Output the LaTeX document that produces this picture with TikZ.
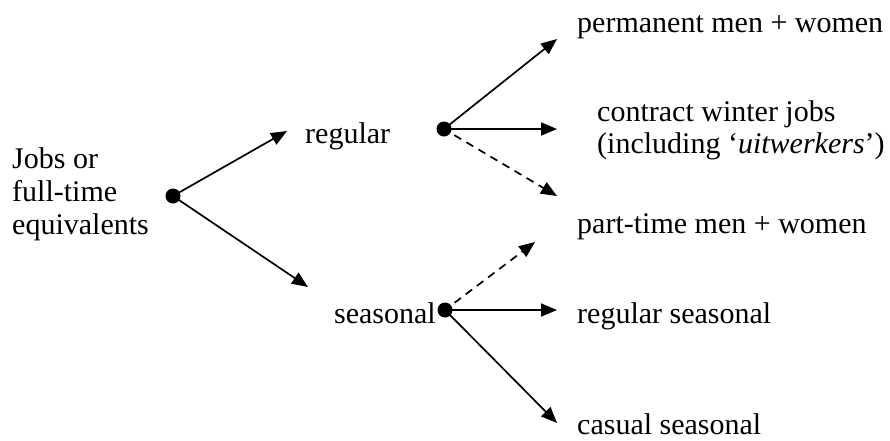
\documentclass[tikz,border=0pt]{standalone}
\usepackage{fontspec}
\setmainfont{Liberation Serif}
\usetikzlibrary{arrows.meta}
\begin{document}
\begin{tikzpicture}[x=1pt,y=-1pt,
  lbl/.style={inner sep=0pt,anchor=base west,align=left,font=\fontsize{30pt}{33pt}\selectfont},
  dot/.style={circle,fill=black,inner sep=0pt,minimum size=15pt},
  arr/.style={line width=1.7pt,-{Triangle[length=16pt,width=13pt]},shorten <=-2pt},
  dasharr/.style={arr,dash pattern=on 8pt off 6pt}]
\useasboundingbox (0,0) rectangle (890,440);
% nodes (multi-line nodes are anchored at the baseline of their last line)
\node[lbl] (jobs) at (12,234) {Jobs or\\full-time\\equivalents};
\node[dot] (d1) at (173,196) {};
\node[lbl] (reg) at (305,143) {regular};
\node[lbl,anchor=base east] (sea) at (436,323) {seasonal};
\node[dot] (d2) at (444,129) {};
\node[dot] (d3) at (445,310) {};
\node[lbl] (perm) at (577,32) {permanent men + women};
\node[lbl,font=\fontsize{30pt}{32pt}\selectfont] (contr) at (597,153) {contract winter jobs\\(including ‘\textit{uitwerkers}’)};
\node[lbl] (part) at (577,233) {part-time men + women};
\node[lbl] (regsea) at (577,323) {regular seasonal};
\node[lbl] (cas) at (577,434) {casual seasonal};
% tips
\coordinate (t1) at (287,131);
\coordinate (t2) at (308,287);
\coordinate (t3) at (557,39);
\coordinate (t4) at (557,129);
\coordinate (t5) at (557,196);
\coordinate (t6) at (535,242);
\coordinate (t7) at (557,310);
\coordinate (t8) at (557,423);
% connectors
\draw[arr] (d1.center) -- (t1);
\draw[arr] (d1.center) -- (t2);
\draw[arr] (d2.center) -- (t3);
\draw[arr] (d2.center) -- (t4);
\draw[dasharr] (d2.center) -- (t5);
\draw[dasharr] (d3.center) -- (t6);
\draw[arr] (d3.center) -- (t7);
\draw[arr] (d3.center) -- (t8);
\end{tikzpicture}
\end{document}
